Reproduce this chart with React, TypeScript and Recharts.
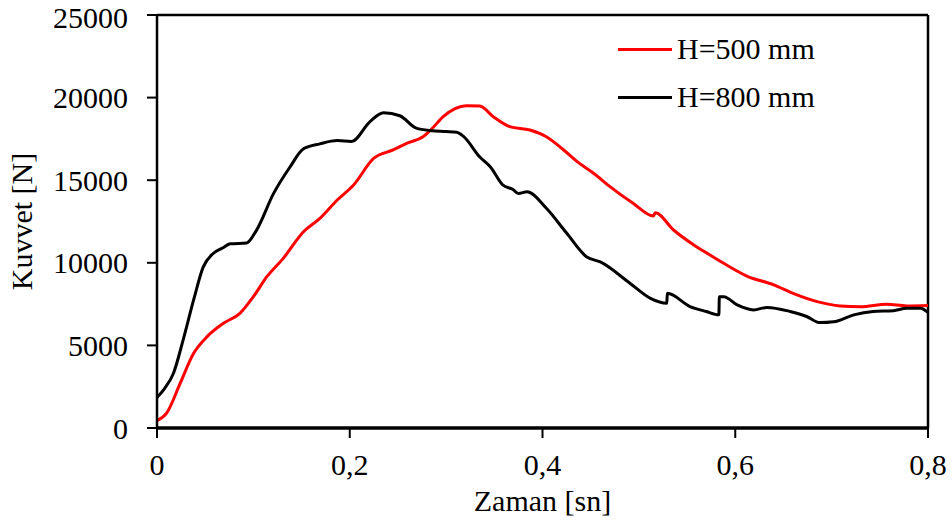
import React from 'react';
import { LineChart, Line, XAxis, YAxis, ReferenceLine } from 'recharts';

// Zaman [sn] / Kuvvet [N] readings
const h500Time = [0, 0.01, 0.024, 0.038, 0.052, 0.069, 0.086, 0.1, 0.114, 0.131, 0.152, 0.169, 0.187, 0.204, 0.225, 0.245, 0.259, 0.276, 0.285, 0.297, 0.321, 0.335, 0.349, 0.366, 0.387, 0.404, 0.422, 0.436, 0.453, 0.47, 0.494, 0.515, 0.517, 0.536, 0.557, 0.571, 0.588, 0.612, 0.64, 0.66, 0.685, 0.709, 0.73, 0.757, 0.778, 0.8];
const h500Force = [450, 900, 2700, 4520, 5530, 6340, 6940, 7950, 9160, 10270, 11880, 12690, 13800, 14710, 16330, 16830, 17230, 17630, 18100, 18850, 19510, 19490, 18840, 18240, 18040, 17630, 16830, 16120, 15420, 14610, 13600, 12830, 13030, 11985, 11080, 10570, 9970, 9200, 8660, 8150, 7650, 7390, 7340, 7490, 7390, 7420];

const h800Time = [0, 0.008, 0.017, 0.027, 0.038, 0.048, 0.058, 0.068, 0.076, 0.093, 0.103, 0.121, 0.138, 0.152, 0.169, 0.187, 0.202, 0.221, 0.235, 0.252, 0.269, 0.285, 0.3, 0.311, 0.318, 0.335, 0.346, 0.359, 0.369, 0.375, 0.384, 0.404, 0.425, 0.446, 0.46, 0.491, 0.512, 0.529, 0.5295, 0.553, 0.57, 0.583, 0.5835, 0.588, 0.602, 0.619, 0.633, 0.657, 0.674, 0.688, 0.702, 0.723, 0.743, 0.764, 0.778, 0.792, 0.8];
const h800Force = [1850, 2400, 3300, 5300, 7750, 9750, 10550, 10900, 11150, 11200, 11950, 14200, 15800, 16900, 17200, 17400, 17350, 18550, 19080, 18900, 18150, 18000, 17950, 17900, 17650, 16400, 15800, 14700, 14450, 14200, 14300, 13300, 11800, 10350, 10050, 8750, 7850, 7550, 8150, 7350, 7050, 6850, 7950, 7950, 7450, 7150, 7300, 7050, 6750, 6380, 6430, 6850, 7050, 7100, 7250, 7250, 7000];

const xTicks = [0, 0.2, 0.4, 0.6, 0.8];
const yTicks = [0, 5000, 10000, 15000, 20000, 25000];

const seriesNames = ['H=500 mm', 'H=800 mm'];
const seriesColors = ['#ff0000', '#000000'];
const xTitle = 'Zaman [sn]';
const yTitle = 'Kuvvet [N]';

const h500Data = h500Time.map((t, i) => ({ t, f: h500Force[i] }));
const h800Data = h800Time.map((t, i) => ({ t, f: h800Force[i] }));

const FONT = 'Liberation Serif';
const FS = 30;
const textStyle = { fontFamily: FONT, fontSize: FS, fill: '#000' };

const XTitle = (props: any) => {
  const { viewBox } = props;
  return (
    <text x={viewBox.x + viewBox.width / 2} y={viewBox.y + viewBox.height - 14} textAnchor="middle" fontFamily={FONT} fontSize={FS} fill="#000">
      {xTitle}
    </text>
  );
};

const YTitle = (props: any) => {
  const { viewBox } = props;
  const cx = 32;
  const cy = viewBox.y + viewBox.height / 2;
  return (
    <text x={cx} y={cy} transform={`rotate(-90 ${cx} ${cy})`} textAnchor="middle" fontFamily={FONT} fontSize={FS} fill="#000">
      {yTitle}
    </text>
  );
};

const App: React.FC = () => {
  return (
    <div style={{ position: 'absolute', left: 0, top: 0, width: 952, height: 525, background: '#fff' }}>
      <LineChart width={952} height={525} margin={{ top: 15, right: 24, bottom: 0, left: 0 }}>
        <XAxis
          type="number"
          dataKey="t"
          domain={[0, 0.8]}
          ticks={xTicks}
          height={97}
          tickSize={10}
          tickMargin={16}
          axisLine={{ stroke: '#000', strokeWidth: 3.5 }}
          tickLine={{ stroke: '#000', strokeWidth: 2 }}
          tick={textStyle}
          tickFormatter={(v: number) => String(v).replace('.', ',')}
          label={<XTitle />}
        />
        <YAxis
          type="number"
          domain={[0, 25000]}
          ticks={yTicks}
          width={157}
          tickSize={10}
          tickMargin={19}
          axisLine={{ stroke: '#000', strokeWidth: 2.5 }}
          tickLine={{ stroke: '#000', strokeWidth: 2 }}
          tick={textStyle}
          label={<YTitle />}
        />
        <ReferenceLine y={25000} stroke="#000" strokeWidth={2.5} />
        <ReferenceLine x={0.8} stroke="#000" strokeWidth={2.5} />
        <Line data={h500Data} dataKey="f" name={seriesNames[0]} type="monotone" stroke={seriesColors[0]} strokeWidth={3} dot={false} isAnimationActive={false} />
        <Line data={h800Data} dataKey="f" name={seriesNames[1]} type="monotone" stroke={seriesColors[1]} strokeWidth={3} dot={false} isAnimationActive={false} />
      </LineChart>
      {/* legend */}
      <div style={{ position: 'absolute', top: 25, left: 618, fontFamily: FONT, fontSize: FS, color: '#000' }}>
        {seriesNames.map((name, i) => (
          <div key={name} style={{ display: 'flex', alignItems: 'center', height: 48, whiteSpace: 'nowrap' }}>
            <div style={{ width: 54, height: 3, background: seriesColors[i], marginRight: 5 }} />
            <span>{name}</span>
          </div>
        ))}
      </div>
    </div>
  );
};

export default App;
